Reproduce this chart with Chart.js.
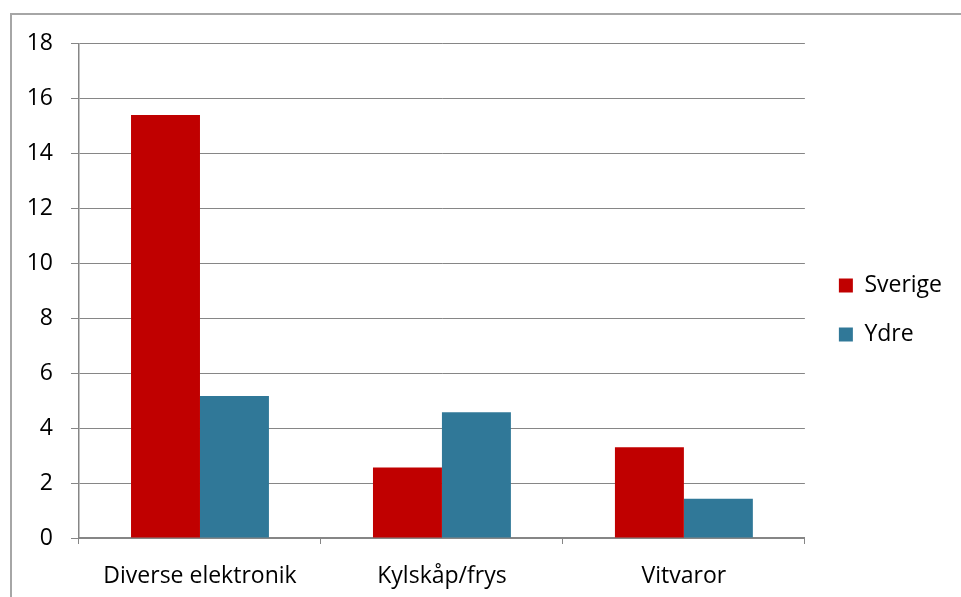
<!DOCTYPE html>
<html>
<head>
<meta charset="utf-8">
<script src="https://cdn.jsdelivr.net/npm/chart.js@4"></script>
<style>
    body { margin: 0; background: #fff; }
    #wrap { position: relative; width: 961px; height: 597px; }
    #frame {
        position: absolute; left: 10px; top: 13px; width: 980px; height: 620px;
        border-left: 2px solid #a6a6a6; border-top: 2px solid #a6a6a6;
    }
    canvas { position: absolute; left: 0; top: 0; }
</style>
</head>
<body>
<div id="wrap">
    <div id="frame"></div>
    <canvas id="chart" width="961" height="597"></canvas>
</div>
<script>
const categories = ["Diverse elektronik", "Kylskåp/frys", "Vitvaror"];
const sverige = [15.4, 2.57, 3.3];
const ydre = [5.17, 4.58, 1.43];

const gridColor = "#868686";
const fontFamily = "'Open Sans', 'Noto Sans', sans-serif";

const ctx = document.getElementById("chart").getContext("2d");

const chart = new Chart(ctx, {
    type: 'bar',
    data: {
        labels: categories,
        datasets: [
            {
                label: 'Sverige',
                data: sverige,
                backgroundColor: '#c00000',
                xAxisID: 'x',
                yAxisID: 'y',
                categoryPercentage: 0.57,
                barPercentage: 1
            },
            {
                label: 'Ydre',
                data: ydre,
                backgroundColor: '#307898',
                xAxisID: 'x',
                yAxisID: 'y',
                categoryPercentage: 0.57,
                barPercentage: 1
            }
        ]
    },
    options: {
        responsive: false,
        animation: false,
        layout: {
            padding: { top: 23, left: 0, right: 9, bottom: 0 }
        },
        plugins: {
            tooltip: { enabled: false },
            legend: {
                position: 'right',
                labels: {
                    color: '#000',
                    font: { family: fontFamily, size: 23 },
                    boxWidth: 14,
                    boxHeight: 14,
                    padding: 26
                }
            }
        },
        scales: {
            x: {
                grid: {
                    display: true,
                    drawOnChartArea: false,
                    color: gridColor,
                    tickLength: 6
                },
                border: { color: gridColor, width: 2 },
                ticks: {
                    color: '#000',
                    padding: 19,
                    font: { family: fontFamily, size: 23 }
                },
                afterFit: (scale) => { scale.height = 59; }
            },
            y: {
                min: 0,
                max: 18,
                ticks: {
                    stepSize: 2,
                    color: '#000',
                    padding: 18,
                    font: { family: fontFamily, size: 23 }
                },
                grid: {
                    color: gridColor,
                    tickLength: 8
                },
                border: { color: gridColor, width: 1.5 },
                afterFit: (scale) => { scale.width = 79; }
            },
            // empty spacers so the legend sits where it does in the original
            top: {
                type: 'category',
                position: 'top',
                labels: categories,
                grid: { display: false },
                border: { display: false },
                ticks: { display: false },
                afterFit: (scale) => { scale.height = 20.5; }
            },
            gap: {
                type: 'linear',
                position: 'right',
                grid: { display: false },
                border: { display: false },
                ticks: { display: false },
                afterFit: (scale) => { scale.width = 8; }
            }
        }
    }
});
</script>
</body>
</html>
